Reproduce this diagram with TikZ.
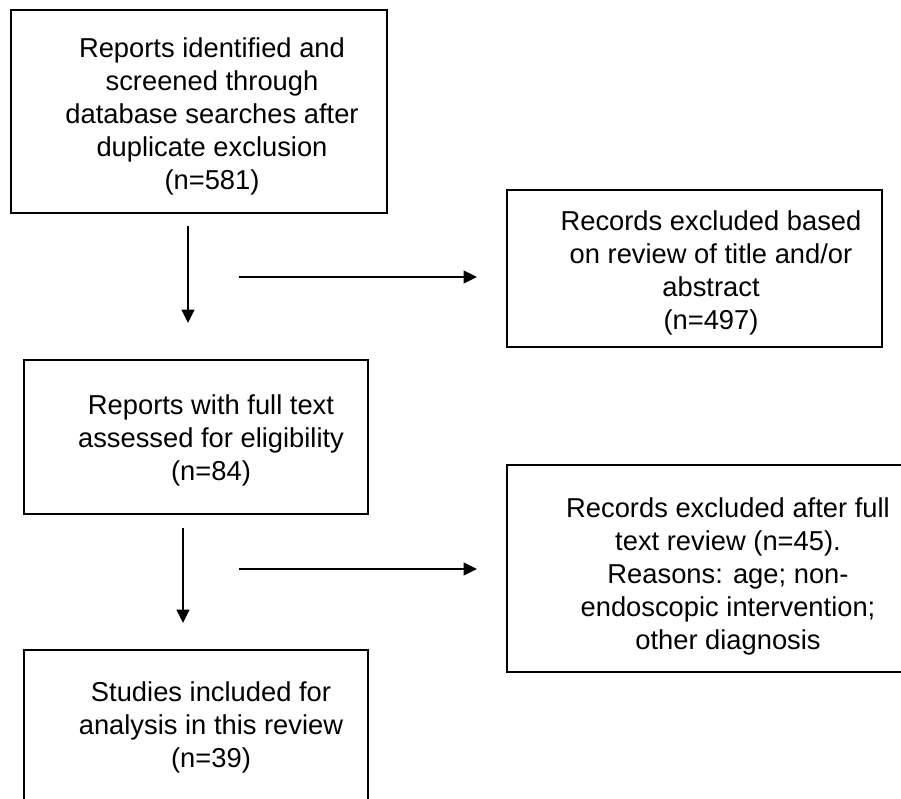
\documentclass[tikz,border=0pt]{standalone}
\usepackage{fontspec}
\setmainfont{Liberation Sans}
\usetikzlibrary{arrows.meta}

\begin{document}
\begin{tikzpicture}[x=0.75pt,y=-0.75pt,
  box/.style={draw, line width=1.4pt, rectangle, inner sep=0pt},
  txt/.style={align=center, inner sep=0pt, font=\fontsize{20.5}{24.75}\selectfont},
  flow/.style={line width=1.4pt, -{Triangle[length=10pt,width=9.5pt]}}]
\clip (0,0) rectangle (901,799);
\fill[white] (0,0) rectangle (901,799);
% boxes
\node[box, minimum width=282pt, minimum height=152.25pt] (B1) at (199,111.5) {};
\node[box, minimum width=281.25pt, minimum height=117.75pt] (B2) at (694.5,268.5) {};
\node[box, minimum width=258pt, minimum height=115.5pt] (B3) at (196,437) {};
\node[box, minimum width=302.25pt, minimum height=155.25pt] (B4) at (708.5,568.5) {};
\node[box, minimum width=258pt, minimum height=127.5pt] (B5) at (196,735) {};
% texts
\node[txt] (T1) at (212,116) {Reports identified and\\screened through\\database searches after\\duplicate exclusion\\(n=581)};
\node[txt] (T2) at (711,273) {Records excluded based\\on review of title and/or\\abstract\\(n=497)};
\node[txt] (T3) at (211,440) {Reports with full text\\assessed for eligibility\\(n=84)};
\node[txt] (T4) at (728,576) {Records excluded after full\\text review (n=45).\\Reasons: age; non-\\endoscopic intervention;\\other diagnosis};
\node[txt] (T5) at (211,727) {Studies included for\\analysis in this review\\(n=39)};
% arrows
\coordinate (A1s) at (188,226);
\coordinate (A1e) at (188,323);
\coordinate (H1s) at (239,277);
\coordinate (H1e) at (477,277);
\coordinate (A2s) at (183,528);
\coordinate (A2e) at (183,623);
\coordinate (H2s) at (239,569);
\coordinate (H2e) at (477,569);
\draw[flow] (A1s) -- (A1e);
\draw[flow] (H1s) -- (H1e);
\draw[flow] (A2s) -- (A2e);
\draw[flow] (H2s) -- (H2e);
\end{tikzpicture}
\end{document}
